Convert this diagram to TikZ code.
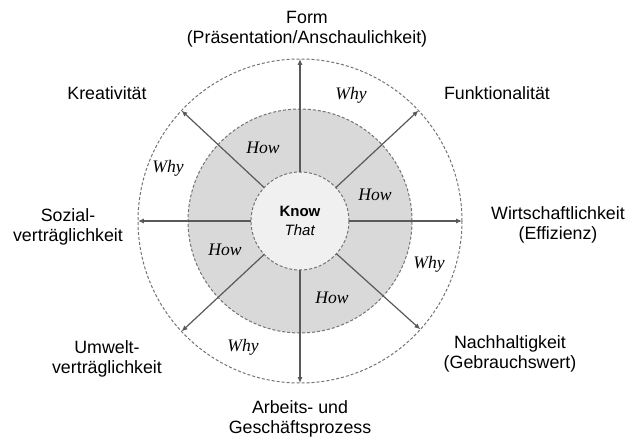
\documentclass[tikz,border=0pt]{standalone}
\usepackage{fontspec}
\setmainfont{Liberation Serif}
\setsansfont{Liberation Sans}
\usepackage{tikz}
\usetikzlibrary{arrows.meta}

\begin{document}
\begin{tikzpicture}[
  x=0.5pt, y=0.5pt,
  zone/.style={circle, draw=black!55, dash pattern=on 1.5pt off 1pt, line width=0.5pt, inner sep=0pt, outer sep=0pt},
  dimlabel/.style={font=\sffamily\fontsize{8.9}{10}\selectfont, align=center, inner sep=0pt},
  askword/.style={font=\itshape\fontsize{8.8}{10}\selectfont, inner sep=0pt},
  arrow/.style={draw=black!65, line width=0.6pt, -{Latex[length=3pt, width=2.6pt]}}
]
\useasboundingbox (-300,-218) rectangle (326,221);

% Circles
\node (outer) [zone, minimum size=162pt] at (0,0) {};
\node (ring) [zone, fill=black!15, minimum size=112pt] at (0,0) {};
\node (core) [zone, fill=black!6, minimum size=49pt, align=center, font=\sffamily\fontsize{7.5}{9.5}\selectfont] at (0,0) {\textbf{Know}\\\textit{That}};

% Arrows
\draw [arrow] (core.90) -- (outer.90);
\draw [arrow] (core.43) -- (outer.43);
\draw [arrow] (core.0) -- (outer.0);
\draw [arrow] (core.318) -- (outer.318);
\draw [arrow] (core.270) -- (outer.270);
\draw [arrow] (core.223) -- (outer.223);
\draw [arrow] (core.180) -- (outer.180);
\draw [arrow] (core.137) -- (outer.137);

% How / Why
\node (how1) [askword] at (-37,73) {How};
\node (how2) [askword] at (75,26) {How};
\node (how3) [askword] at (-75,-29) {How};
\node (how4) [askword] at (32,-77) {How};
\node (why1) [askword] at (51,126) {Why};
\node (why2) [askword] at (-132,53) {Why};
\node (why3) [askword] at (129,-43) {Why};
\node (why4) [askword] at (-57,-126) {Why};

% Dimensions
\node (form) [dimlabel] at (7,191.5) {Form\\(Präsentation/Anschaulichkeit)};
\node (funk) [dimlabel] at (197,128) {Funktionalität};
\node (wirt) [dimlabel] at (258,-4) {Wirtschaftlichkeit\\(Effizienz)};
\node (nach) [dimlabel] at (210,-132.5) {Nachhaltigkeit\\(Gebrauchswert)};
\node (arbeit) [dimlabel] at (0,-198) {Arbeits- und\\Geschäftsprozess};
\node (umwelt) [dimlabel] at (-193,-138) {Umwelt-\\verträglichkeit};
\node (sozial) [dimlabel] at (-232,-5.5) {Sozial-\\verträglichkeit};
\node (krea) [dimlabel] at (-193,128) {Kreativität};
\end{tikzpicture}
\end{document}
